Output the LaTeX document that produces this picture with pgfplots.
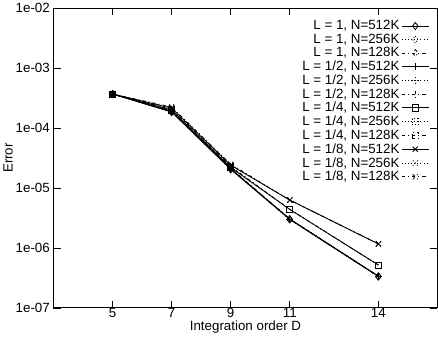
\documentclass[border=0pt]{standalone}
\usepackage{fontspec}
\setmainfont{Liberation Sans}
\usepackage{pgfplots}
\pgfplotsset{compat=1.18}

% line styles for the three problem sizes
\tikzset{
  n512/.style={solid},
  n256/.style={dash pattern=on 1pt off 2pt},
  n128/.style={dash pattern=on 3pt off 3pt on 1pt off 3pt},
}

\begin{document}
\begin{tikzpicture}[font=\fontsize{13}{15}\selectfont]
\begin{axis}[
  scale only axis,
  width=374pt, height=292pt,
  ymode=log,
  xmin=3, xmax=16,
  ymin=1e-7, ymax=1e-2,
  xtick={5,7,9,11,14},
  ytick={1e-7,1e-6,1e-5,1e-4,1e-3,1e-2},
  yticklabels={1e-07,1e-06,1e-05,1e-04,1e-03,1e-02},
  yminorticks=false,
  tick align=inside,
  major tick length=7pt,
  tick style={line width=0.8pt, black},
  axis line style={line width=1pt},
  /pgf/number format/assume math mode=true,
  xticklabel style={yshift=3pt},
  xlabel={Integration order D},
  ylabel={Error},
  xlabel style={yshift=4pt},
  ylabel style={yshift=-4pt},
  every axis plot/.append style={line width=0.8pt, black},
  legend plot pos=right,
  legend cell align=right,
  legend image code/.code={
    \draw[mark repeat=2,mark phase=2] plot coordinates {(0pt,0pt)(13pt,0pt)(26pt,0pt)};},
  legend style={at={(rel axis cs:1,1)}, anchor=north east,
    xshift=-8pt, yshift=-10pt, draw=none, fill=none,
    inner sep=0pt, row sep=-1.5pt,
    font=\fontsize{13}{15}\selectfont},
]

% L = 1 (diamonds)
\addplot[n512, mark=diamond, mark size=3.5pt] coordinates {(5,3.7e-4)(7,1.85e-4)(9,2.05e-5)(11,3.0e-6)(14,3.35e-7)};
\addplot[n256, mark=diamond, mark size=3.5pt] coordinates {(5,3.7e-4)(7,1.86e-4)(9,2.06e-5)(11,3.0e-6)(14,3.35e-7)};
\addplot[n128, mark=diamond, mark size=3.5pt] coordinates {(5,3.7e-4)(7,1.88e-4)(9,2.08e-5)(11,3.0e-6)(14,3.35e-7)};

% L = 1/2 (plus)
\addplot[n512, mark=+, mark size=3.5pt] coordinates {(5,3.7e-4)(7,1.9e-4)(9,2.1e-5)(11,3.05e-6)(14,3.4e-7)};
\addplot[n256, mark=+, mark size=3.5pt] coordinates {(5,3.7e-4)(7,1.92e-4)(9,2.12e-5)(11,3.05e-6)(14,3.4e-7)};
\addplot[n128, mark=+, mark size=3.5pt] coordinates {(5,3.7e-4)(7,1.95e-4)(9,2.15e-5)(11,3.05e-6)(14,3.4e-7)};

% L = 1/4 (squares)
\addplot[n512, mark=square, mark size=3pt] coordinates {(5,3.7e-4)(7,2.0e-4)(9,2.2e-5)(11,4.4e-6)(14,5.2e-7)};
\addplot[n256, mark=square, mark size=3pt] coordinates {(5,3.7e-4)(7,2.02e-4)(9,2.25e-5)(11,4.4e-6)(14,5.2e-7)};
\addplot[n128, mark=square, mark size=3pt] coordinates {(5,3.7e-4)(7,2.05e-4)(9,2.3e-5)(11,4.4e-6)(14,5.2e-7)};

% L = 1/8 (crosses)
\addplot[n512, mark=x, mark size=3.5pt] coordinates {(5,3.7e-4)(7,2.15e-4)(9,2.4e-5)(11,6.3e-6)(14,1.17e-6)};
\addplot[n256, mark=x, mark size=3.5pt] coordinates {(5,3.7e-4)(7,2.2e-4)(9,2.45e-5)(11,6.3e-6)(14,1.17e-6)};
\addplot[n128, mark=x, mark size=3.5pt] coordinates {(5,3.7e-4)(7,2.25e-4)(9,2.5e-5)(11,6.3e-6)(14,1.17e-6)};

\legend{{L = 1, N=512K},{L = 1, N=256K},{L = 1, N=128K},
  {L = 1/2, N=512K},{L = 1/2, N=256K},{L = 1/2, N=128K},
  {L = 1/4, N=512K},{L = 1/4, N=256K},{L = 1/4, N=128K},
  {L = 1/8, N=512K},{L = 1/8, N=256K},{L = 1/8, N=128K}}
\end{axis}
\end{tikzpicture}
\end{document}
